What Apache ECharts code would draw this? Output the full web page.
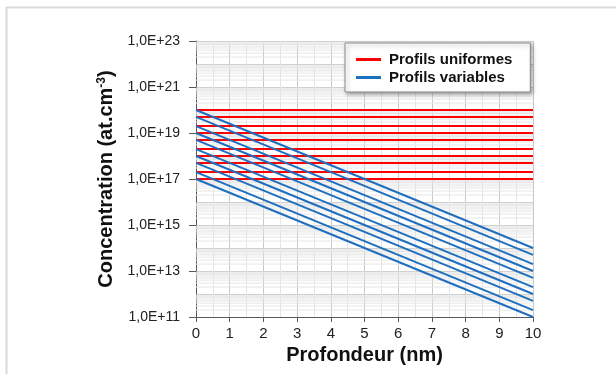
<!DOCTYPE html>
<html>
<head>
<meta charset="utf-8">
<script src="https://cdn.jsdelivr.net/npm/echarts@6/dist/echarts.min.js"></script>
<style>
html, body { margin: 0; padding: 0; background: #fff; }
#chart { width: 616px; height: 374px; }
</style>
</head>
<body>
<div id="chart"></div>
<script>
// profondeur (nm) : debut et fin de chaque profil
var depth = [0, 10];
// profils uniformes : niveau constant (at.cm-3)
var uniformLevels = [1e17, 2e17, 5e17, 1e18, 2e18, 5e18, 1e19, 2e19, 5e19, 1e20];
// profils variables : valeur en surface et a 10 nm
var variableStart = [1e17, 2e17, 5e17, 1e18, 2e18, 5e18, 1e19, 2e19, 5e19, 1e20];
var variableEnd = [1e11, 2e11, 5e11, 1e12, 2e12, 5e12, 1e13, 2e13, 5e13, 1e14];
var yLabels = ['1,0E+11', '1,0E+13', '1,0E+15', '1,0E+17', '1,0E+19', '1,0E+21', '1,0E+23'];

var myChart = echarts.init(document.getElementById('chart'));
var font = 'Liberation Sans, Arial, sans-serif';

// petites lignes de grille log (2..9 par decade), coupees entre elles
var minorGrid = [];
for (var e = 11; e < 23; e++) {
    for (var k = 2; k <= 9; k++) {
        var v = k * Math.pow(10, e);
        minorGrid.push([depth[0], v], [depth[1], v], [depth[1], '-']);
    }
}

var series = [];
series.push({
    name: 'grid',
    type: 'line',
    symbol: 'none',
    silent: true,
    z: 1,
    connectNulls: false,
    lineStyle: { color: '#e6e6e6', width: 1 },
    data: minorGrid
});
for (var i = 0; i < uniformLevels.length; i++) {
    series.push({
        name: 'Profils uniformes',
        type: 'line',
        symbol: 'none',
        z: 3,
        lineStyle: { color: '#ff0000', width: 2 },
        itemStyle: { color: '#ff0000' },
        data: [[depth[0], uniformLevels[i]], [depth[1], uniformLevels[i]]]
    });
}
for (var i = 0; i < variableStart.length; i++) {
    series.push({
        name: 'Profils variables',
        type: 'line',
        symbol: 'none',
        z: 4,
        lineStyle: { color: '#1f6fbf', width: 2 },
        itemStyle: { color: '#1f6fbf' },
        data: [[depth[0], variableStart[i]], [depth[1], variableEnd[i]]]
    });
}

var option = {
    animation: false,
    textStyle: { fontFamily: font },
    grid: { left: 196, right: 83, top: 41, bottom: 57 },
    legend: {
        data: ['Profils uniformes', 'Profils variables'],
        orient: 'vertical',
        left: 345,
        top: 43,
        z: 10,
        padding: [9, 18, 7, 11],
        itemGap: 3,
        itemWidth: 25,
        itemHeight: 3,
        icon: 'rect',
        backgroundColor: '#fff',
        borderColor: '#8c8c8c',
        borderWidth: 1,
        shadowColor: 'rgba(0,0,0,0.35)',
        shadowBlur: 4,
        shadowOffsetX: 2,
        shadowOffsetY: 2,
        textStyle: { fontFamily: font, fontSize: 15, fontWeight: 'bold', color: '#111', padding: [0, 0, 0, 3] }
    },
    xAxis: {
        type: 'value',
        min: 0,
        max: 10,
        interval: 1,
        name: 'Profondeur (nm)',
        nameLocation: 'middle',
        nameGap: 28,
        nameTextStyle: { fontFamily: font, fontSize: 20, fontWeight: 'bold', color: '#111' },
        axisLine: { show: true, onZero: false, lineStyle: { color: '#595959', width: 1 } },
        axisTick: { show: true, length: 5, lineStyle: { color: '#595959' } },
        axisLabel: { fontSize: 15, color: '#222', margin: 9 },
        splitLine: { show: true, lineStyle: { color: '#c8c8c8', width: 1 } },
        minorTick: { show: false, splitNumber: 2 },
        minorSplitLine: { show: true, lineStyle: { color: '#e4e4e4', width: 1 } }
    },
    yAxis: [{
        type: 'log',
        logBase: 10,
        min: 1e11,
        max: 1e23,
        interval: 2,
        name: 'Concentration (at.cm{sup|-3})',
        nameLocation: 'middle',
        nameGap: 66,
        nameRotate: 90,
        nameTextStyle: {
            fontFamily: font, fontSize: 20, fontWeight: 'bold', color: '#111',
            rich: {
                sup: { fontFamily: font, fontSize: 12, fontWeight: 'bold', color: '#111', verticalAlign: 'top', padding: [0, 0, 9, 0] }
            }
        },
        axisLine: { show: true, lineStyle: { color: '#595959', width: 1 } },
        axisTick: { show: true, length: 7, lineStyle: { color: '#595959' } },
        axisLabel: {
            fontSize: 14, color: '#222', margin: 16,
            formatter: function (v) {
                var ex = Math.round(Math.log10(v));
                return yLabels[(ex - 11) / 2] || '';
            }
        },
        splitLine: { show: false }
    }, {
        type: 'log',
        logBase: 10,
        min: 1e11,
        max: 1e23,
        interval: 1,
        position: 'left',
        axisLine: { show: false },
        axisTick: { show: false },
        axisLabel: { show: false },
        splitLine: { show: true, lineStyle: { color: '#bdbdbd', width: 1 } }
    }],
    graphic: [
        { type: 'line', silent: true, shape: { x1: 6, y1: 7.5, x2: 616, y2: 7.5 }, style: { stroke: '#d9d9d9', lineWidth: 2 } },
        { type: 'line', silent: true, shape: { x1: 6.5, y1: 7, x2: 6.5, y2: 374 }, style: { stroke: '#d9d9d9', lineWidth: 2 } }
    ],
    series: series
};

if (option && typeof option === 'object') {
    myChart.setOption(option);
}
</script>
</body>
</html>
